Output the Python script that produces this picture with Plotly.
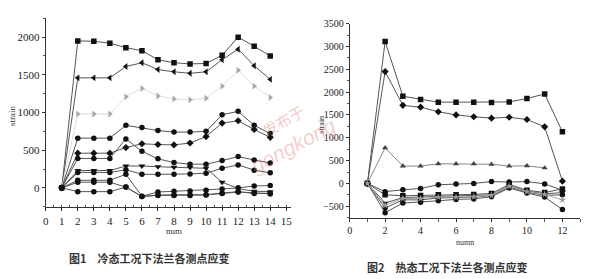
import plotly.graph_objects as go

# ---------------- data: left chart (cold state) ----------------
left_x = list(range(1, 15))
left_s1 = [0, 1950, 1945, 1920, 1860, 1820, 1700, 1660, 1645, 1650, 1760, 2000, 1880, 1750]
left_s2 = [0, 1460, 1460, 1460, 1610, 1660, 1570, 1540, 1520, 1540, 1700, 1840, 1620, 1440]
left_s3 = [0, 980, 980, 980, 1210, 1320, 1220, 1180, 1170, 1190, 1350, 1560, 1350, 1200]
left_s4 = [0, 660, 660, 660, 830, 800, 760, 740, 740, 750, 970, 1015, 830, 720]
left_s5 = [0, 460, 460, 460, 535, 585, 575, 570, 595, 680, 860, 890, 775, 670]
left_s6 = [0, 390, 390, 390, 650, 485, 385, 335, 315, 315, 362, 415, 370, 330]
left_s7 = [0, 230, 230, 230, 290, 290, 280, 275, 270, 260, 75, -10, -45, -50]
left_s8 = [0, 205, 205, 205, 240, 180, 180, 180, 185, 195, 260, 305, 235, 200]
left_s9 = [0, 100, 100, 100, 180, -110, -55, -45, -40, -30, -15, 0, 25, 30]
left_s10 = [0, 75, 75, 75, 10, -115, -95, -95, -95, -90, -70, -50, -75, -70]
left_s11 = [0, -50, -50, -50, 10, -115, -100, -100, -100, -95, -75, -55, -65, -80]

# ---------------- data: right chart (hot state) ----------------
right_x = list(range(1, 13))
right_x_s3 = list(range(1, 12))
right_s1 = [0, 3110, 1910, 1840, 1780, 1780, 1780, 1775, 1785, 1860, 1960, 1130]
right_s2 = [0, 2450, 1710, 1670, 1570, 1500, 1460, 1430, 1450, 1400, 1240, 50]
right_s3 = [0, 780, 380, 380, 430, 430, 430, 420, 380, 385, 340]
right_s4 = [0, -180, -140, -110, -30, -10, 0, 40, 30, 40, -10, -150]
right_s5 = [0, -250, -270, -265, -250, -250, -240, -220, -20, -150, -200, -120]
right_s6 = [0, -430, -310, -300, -290, -285, -275, -250, -50, -170, -230, -200]
right_s7 = [0, -540, -360, -360, -320, -310, -300, -270, -80, -190, -260, -250]
right_s8 = [0, -640, -430, -410, -380, -350, -340, -290, -100, -210, -300, -570]
right_s9 = [0, -480, -330, -330, -300, -300, -290, -260, -60, -180, -240, -360]

left_yticks = [0, 500, 1000, 1500, 2000]
right_yticks = [-500, 0, 500, 1000, 1500, 2000, 2500, 3000, 3500]

LINE = "#555555"
MK = "#111111"

fig = go.Figure()

def add(x, y, sym, xa, ya, color=MK, lcolor=LINE, size=5.5):
    fig.add_trace(go.Scatter(
        x=x, y=y, mode="lines+markers", xaxis=xa, yaxis=ya,
        line=dict(color=lcolor, width=1),
        marker=dict(symbol=sym, size=size, color=color),
        showlegend=False, hoverinfo="skip"))

# left
add(left_x, left_s1, "square", "x", "y")
add(left_x, left_s2, "triangle-left", "x", "y", size=6)
add(left_x, left_s3, "triangle-right", "x", "y", color="#aaaaaa", lcolor="#dddddd", size=6)
add(left_x, left_s4, "circle", "x", "y")
add(left_x, left_s5, "diamond", "x", "y")
add(left_x, left_s6, "circle", "x", "y")
add(left_x, left_s7, "triangle-down", "x", "y", size=6)
add(left_x, left_s8, "circle", "x", "y")
add(left_x, left_s9, "circle", "x", "y")
add(left_x, left_s10, "circle", "x", "y")
add(left_x, left_s11, "circle", "x", "y")

# right
add(right_x, right_s1, "square", "x2", "y2")
add(right_x, right_s2, "diamond", "x2", "y2")
add(right_x_s3, right_s3, "triangle-up", "x2", "y2", color="#444444", lcolor="#888888")
add(right_x, right_s4, "circle", "x2", "y2")
add(right_x, right_s5, "square", "x2", "y2")
add(right_x, right_s6, "triangle-down", "x2", "y2")
add(right_x, right_s7, "circle", "x2", "y2")
add(right_x, right_s8, "circle", "x2", "y2")
add(right_x, right_s9, "star", "x2", "y2", color="#999999", lcolor="#aaaaaa")

tickfont = dict(family="Liberation Serif", size=11, color="#222222")
tickfont_r = dict(family="Liberation Serif", size=10, color="#222222")

axis_common = dict(showgrid=False, zeroline=False, showline=True, linecolor="#333333",
                   linewidth=1, mirror=False, ticks="outside", ticklen=3,
                   tickcolor="#333333")

fig.update_layout(
    width=600, height=279,
    margin=dict(l=0, r=0, t=0, b=0),
    paper_bgcolor="white", plot_bgcolor="white",
    xaxis=dict(domain=[43/600, 290/600], range=[0, 15.3], tickvals=list(range(0, 16)),
               tickfont=tickfont, anchor="y",
               minor=dict(dtick=0.5, ticks="inside", ticklen=2, tickcolor="#555555"),
               **axis_common),
    yaxis=dict(domain=[1 - 206/279, 1 - 13/279], range=[-258, 2257], tickvals=left_yticks,
               tickfont=tickfont, anchor="x",
               minor=dict(dtick=250, ticks="outside", ticklen=2, tickcolor="#555555"),
               **axis_common),
    xaxis2=dict(domain=[349/600, 581/600], range=[0, 13], tickvals=list(range(0, 13, 2)),
                tickfont=tickfont_r, anchor="y2",
                minor=dict(dtick=1, ticks="outside", ticklen=3, tickcolor="#555555"),
                **axis_common),
    yaxis2=dict(domain=[1 - 217/279, 1 - 19/279], range=[-760, 3500], tickvals=right_yticks,
                tickfont=tickfont_r, anchor="x2",
                minor=dict(dtick=250, ticks="outside", ticklen=2, tickcolor="#555555"),
                **axis_common),
)

ann = []
def txt(t, x, y, size, angle=0, color="#333333", family="Liberation Serif"):
    ann.append(dict(text=t, x=x/600, y=1 - y/279, xref="paper", yref="paper",
                    showarrow=False, textangle=angle,
                    font=dict(family=family, size=size, color=color),
                    xanchor="center", yanchor="middle"))

txt("strain", 9, 113, 9, angle=-90)
txt("strain", 321, 122, 8, angle=-90)
txt("num", 172, 230, 9)
txt("numn", 465, 242, 8)
txt("<b>图1　冷态工况下法兰各测点应变</b>", 147, 258, 11, family="Noto Sans CJK SC")
txt("<b>图2　热态工况下法兰各测点应变</b>", 447, 267, 11, family="Noto Sans CJK SC")
# watermark
txt("发布于", 282, 118, 15, angle=-30, color="rgba(225,130,130,0.45)", family="Noto Sans CJK SC")
txt("<i>gongkong</i>", 292, 143, 21, angle=-28, color="rgba(225,130,130,0.40)", family="Liberation Sans")

fig.update_layout(annotations=ann)
fig.write_html("out.html")
